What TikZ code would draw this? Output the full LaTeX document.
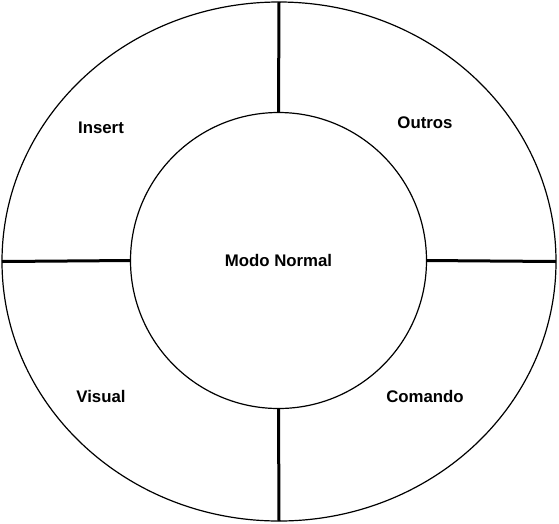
\documentclass[tikz,border=0pt]{standalone}
\usepackage{fontspec}
\setmainfont{Liberation Sans}
\usetikzlibrary{shapes.geometric}
\begin{document}
\begin{tikzpicture}[x=1pt,y=-1pt,line join=round,
    ring/.style={draw,line width=1.2pt,inner sep=0pt,outer sep=0pt},
    divider/.style={line width=3pt},
    mode/.style={font=\fontsize{16.8}{20}\selectfont\bfseries}]
    \useasboundingbox (0,0) rectangle (559,523);
    \node[ring,ellipse,minimum width=554pt,minimum height=519pt] (outer) at (279,261.5) {};
    \node[ring,circle,minimum size=296pt,mode] (inner) at (278.5,260.5) {Modo Normal};
    % four dividers between the rings
    \foreach \a in {north,south,east,west}{%
      \draw[divider](outer.\a)--(inner.\a);
    }
    \node[mode] (insert) at (101,128) {Insert};
    \node[mode] (outros) at (425,123) {Outros};
    \node[mode] (visual) at (101,396) {Visual};
    \node[mode] (comando) at (425,396) {Comando};
\end{tikzpicture}
\end{document}
